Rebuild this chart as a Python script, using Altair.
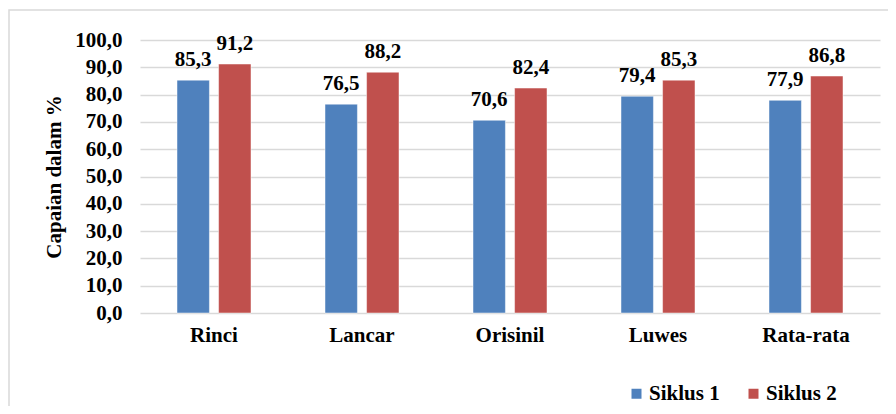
import altair as alt
import pandas as pd

categories = ["Rinci", "Lancar", "Orisinil", "Luwes", "Rata-rata"]
siklus1 = [85.3, 76.5, 70.6, 79.4, 77.9]
siklus2 = [91.2, 88.2, 82.4, 85.3, 86.8]
series = ["Siklus 1", "Siklus 2"]
colors = ["#4F81BD", "#C0504D"]
y_ticks = list(range(0, 101, 10))

rows = []
for c, a, b in zip(categories, siklus1, siklus2):
    rows.append({"kategori": c, "siklus": series[0], "nilai": a})
    rows.append({"kategori": c, "siklus": series[1], "nilai": b})
df = pd.DataFrame(rows)
df["label"] = df["nilai"].map(lambda v: f"{v:.1f}".replace(".", ","))

FONT = "Liberation Serif"
FS = 21

x = alt.X(
    "kategori:N",
    sort=categories,
    scale=alt.Scale(paddingInner=0.5, paddingOuter=0.25),
    axis=alt.Axis(
        title=None, labelAngle=0, labelFont=FONT, labelFontSize=FS,
        labelFontWeight="bold", labelColor="#000000", labelPadding=11,
        ticks=False, domain=False,
    ),
)
xo = alt.XOffset("siklus:N", sort=series, scale=alt.Scale(paddingInner=0.22))
y = alt.Y(
    "nilai:Q",
    scale=alt.Scale(domain=[0, 100], nice=False),
    axis=alt.Axis(
        values=y_ticks,
        title="Capaian dalam %",
        labelExpr="replace(format(datum.value, '.1f'), '.', ',')",
        labelFont=FONT, labelFontSize=FS, labelFontWeight="bold",
        labelColor="#000000", labelPadding=18,
        titleFont=FONT, titleFontSize=FS, titleFontWeight="bold",
        titleColor="#000000", titlePadding=10,
        ticks=False, domain=False,
        grid=True, gridColor="#d9d9d9", gridWidth=1.5,
    ),
)

color = alt.Color(
    "siklus:N",
    sort=series,
    scale=alt.Scale(domain=series, range=colors),
    legend=alt.Legend(
        title=None, orient="none", legendX=486, legendY=343,
        direction="horizontal", symbolType="square", symbolSize=100,
        symbolStrokeWidth=0,
        labelFont=FONT, labelFontSize=FS, labelFontWeight="bold",
        labelColor="#000000", labelOffset=2, columnPadding=23,
    ),
)

base = alt.Chart(df)
bars = base.mark_bar(stroke="#ffffff", strokeWidth=0.8, strokeOpacity=0.6).encode(
    x=x, xOffset=xo, y=y, color=color
)
labels = base.mark_text(
    baseline="alphabetic", dy=-14, font=FONT, fontSize=FS,
    fontWeight="bold", color="#000000",
).encode(x=x, xOffset=xo, y=y, text="label:N")

frame = alt.Chart(alt.Data(values=[{}])).mark_rect(
    fill="transparent", stroke="#d9d9d9", strokeWidth=1.5
).encode(
    x=alt.value(-131), x2=alt.value(800), y=alt.value(-30), y2=alt.value(420)
)

chart = alt.layer(frame, bars, labels).properties(
    width=740,
    height=273,
    autosize=alt.AutoSizeParams(type="none"),
    padding={"left": 132, "top": 32, "right": 8, "bottom": 93},
).configure_view(stroke=None)

chart.save("out.html", embed_options={"renderer": "svg", "actions": False})
